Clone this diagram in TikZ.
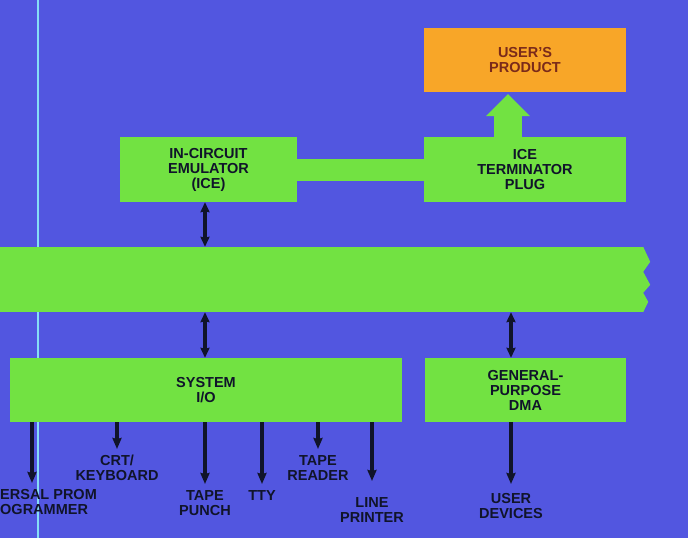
\documentclass[tikz,border=0pt]{standalone}
\usepackage{fontspec}
\setmainfont{Liberation Sans}
\usetikzlibrary{arrows.meta, positioning, calc}
\definecolor{bgBlue}{HTML}{5256E0}
\definecolor{blkGreen}{HTML}{72E242}
\definecolor{prodOrange}{HTML}{F8A628}
\definecolor{edgeCyan}{HTML}{86DDF6}
\definecolor{inkDark}{HTML}{10142A}
\definecolor{inkRed}{HTML}{7A2A1A}
\newcommand{\lbl}{\fontsize{14.5}{15}\selectfont\bfseries}
\tikzset{
  % green function blocks (flat fill, no outline)
  blk/.style={fill=blkGreen, minimum height=65pt, inner sep=0pt,
    align=center, font=\lbl, text=inkDark},
  prodbox/.style={blk, fill=prodOrange, text=inkRed},
  % device labels on the blue ground
  lab/.style={font=\lbl, text=inkDark, align=center, inner sep=0pt},
  A/.style={-{Stealth[length=11pt,width=9pt,inset=1pt]}, line width=3.4pt, draw=inkDark, shorten >=6pt},
  Ab/.style={{Stealth[length=10pt,width=9pt,inset=1pt]}-{Stealth[length=10pt,width=9pt,inset=1pt]},
    line width=3.4pt, draw=inkDark},
  link/.style={draw=blkGreen, line width=22pt},
  fat/.style={draw=blkGreen, line width=28pt, shorten >=2pt,
    -{Triangle[length=22pt,width=44pt,line width=0pt]}},
}
\begin{document}
\begin{tikzpicture}[x=1pt, y=-1pt]

\fill[bgBlue] (0,0) rectangle (688,538);
\useasboundingbox (0,0) rectangle (688,538);
\draw[edgeCyan, line width=2pt] (38,0) -- (38,538);

% ---------------------------------------------------------------
% blocks
% ---------------------------------------------------------------
\node[prodbox, minimum width=202pt, minimum height=64pt] (prod) at (525,60) {USER'S\\PRODUCT};
\node[blk, minimum width=202pt] (plug) at (525,169.5) {ICE\\TERMINATOR\\PLUG};
\node[blk, minimum width=177pt] (ice) at (208.5,169.5) {IN-CIRCUIT\\EMULATOR\\(ICE)};
\draw[link] (ice.east) -- (plug.west);
\draw[fat] ($(plug.north)+(-17,0)$) -- ($(prod.south)+(-17,0)$);

\node[blk, minimum width=643pt] (bus) at (321.5,279.5) {};
\fill[blkGreen] (bus.north east) -- ++(7,15) -- ++(-7,10) -- ++(7,13)
  -- ++(-7,8) -- ++(5,9) -- (bus.south east) -- cycle;

\node[blk, minimum width=392pt, minimum height=64pt] (sysio) at (206,390) {SYSTEM\\I/O};
\node[blk, minimum width=201pt, minimum height=64pt] (dma) at (525.5,390) {GENERAL-\\PURPOSE\\DMA};

% ---------------------------------------------------------------
% devices
% ---------------------------------------------------------------
\node[lab, anchor=north west, align=left] (prom) at (0,489) {ERSAL PROM\\OGRAMMER};
\node[lab, anchor=north] (crt) at (117,455) {CRT/\\KEYBOARD};
\node[lab, anchor=north] (punch) at (205,490) {TAPE\\PUNCH};
\node[lab, anchor=north] (tty) at (262,490) {TTY};
\node[lab, anchor=north] (reader) at (318,455) {TAPE\\READER};
\node[lab, anchor=north] (printer) at (372,497) {LINE\\PRINTER};
\node[lab, anchor=north] (devices) at (511,493) {USER\\DEVICES};
\coordinate (promTip) at (32,483);

% ---------------------------------------------------------------
% connectors
% ---------------------------------------------------------------
\draw[Ab] (ice.south -| punch) -- (bus.north -| punch);
\draw[Ab] (bus.south -| punch) -- (sysio.north -| punch);
\draw[Ab] (bus.south -| devices) -- (dma.north -| devices);

\draw[A, shorten >=0pt] (sysio.south -| promTip) -- (promTip);
\draw[A] (sysio.south -| crt) -- (crt.north);
\draw[A] (sysio.south -| punch) -- (punch.north);
\draw[A] (sysio.south -| tty) -- (tty.north);
\draw[A] (sysio.south -| reader) -- (reader.north);
\draw[A, shorten >=16pt] (sysio.south -| printer) -- (printer.north);
\draw[A, shorten >=9pt] (dma.south -| devices) -- (devices.north);

\end{tikzpicture}
\end{document}
